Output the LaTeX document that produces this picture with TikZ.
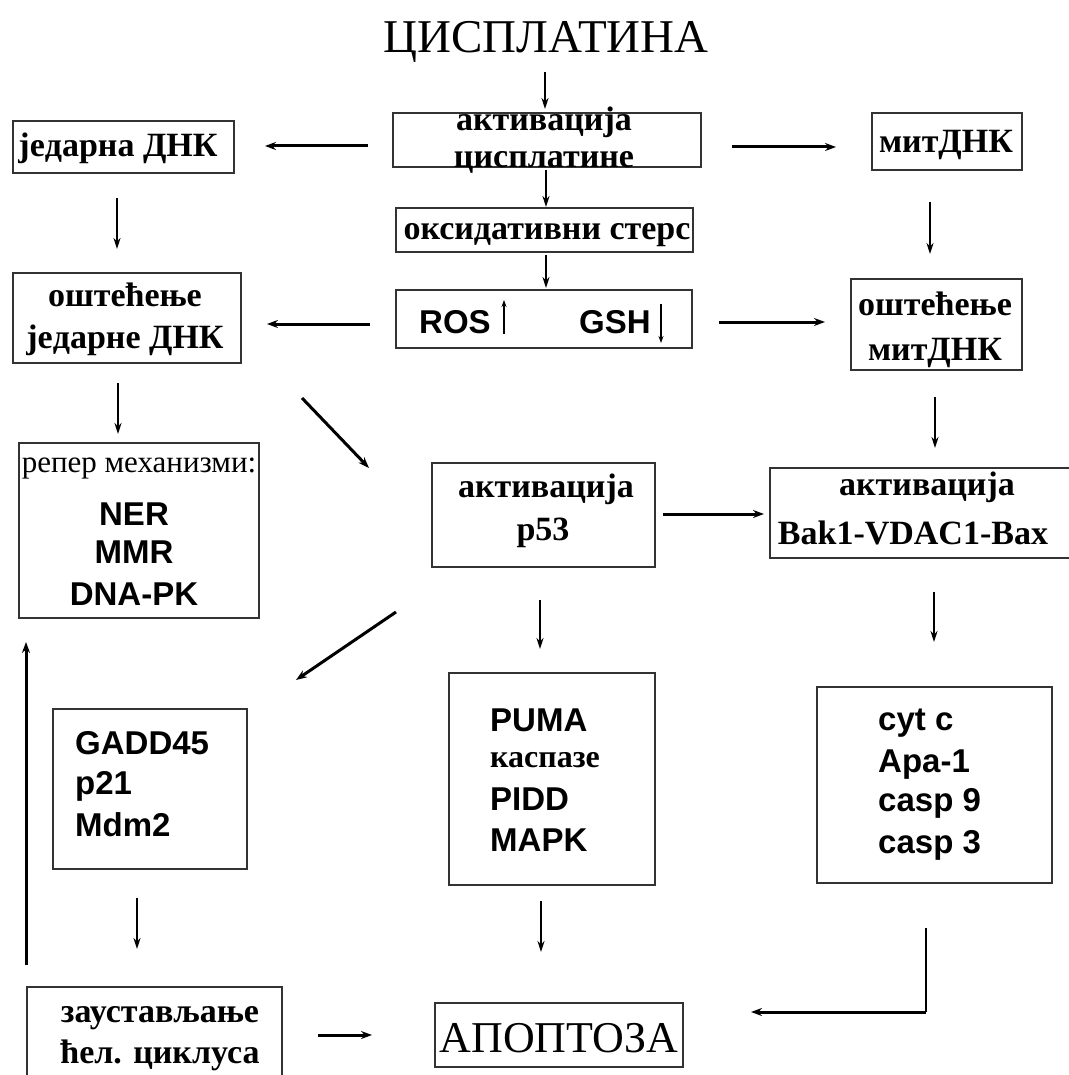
\documentclass[tikz,border=0pt]{standalone}
\usepackage{fontspec}
\setmainfont{Liberation Serif}
\newfontfamily\sansfam{Liberation Sans}
\usetikzlibrary{arrows.meta,fit}
\begin{document}
\begin{tikzpicture}[x=1pt,y=-1pt,
  box/.style={draw=black!80, line width=1.6pt, inner sep=0pt, fill=none},
  ser/.style={inner sep=0pt, anchor=base, font=\fontsize{34}{38}\selectfont\bfseries},
  serreg/.style={inner sep=0pt, anchor=base, font=\fontsize{31}{36}\selectfont},
  sansc/.style={inner sep=0pt, anchor=base, font=\sansfam\fontsize{33}{38}\selectfont\bfseries},
  sansl/.style={inner sep=0pt, anchor=base west, font=\sansfam\fontsize{33}{38}\selectfont\bfseries},
  arr/.style={-{Stealth[length=11pt,width=7pt]}, line width=2pt},
  arrt/.style={-{Stealth[length=11pt,width=8pt]}, line width=3pt},
  every node/.style={text=black}]
\useasboundingbox (0,0) rectangle (1068,1075);
\fill[white] (0,0) rectangle (1068,1075);

% ---- boxes ----
\node[box, fit={(393,113) (701,167)}] (akt) {};
\node[box, fit={(13,121) (234,173)}] (jed) {};
\node[box, fit={(872,113) (1022,170)}] (mit) {};
\node[box, fit={(396,208) (693,252)}] (oks) {};
\node[box, fit={(396,290) (692,348)}] (ros) {};
\node[box, fit={(13,273) (241,363)}] (ostj) {};
\node[box, fit={(851,279) (1022,370)}] (ostm) {};
\node[box, fit={(19,443) (259,618)}] (rep) {};
\node[box, fit={(432,463) (655,567)}] (p53) {};
\node[box, fit={(770,468) (1072,558)}] (bak) {};
\node[box, fit={(53,709) (247,869)}] (gadd) {};
\node[box, fit={(449,673) (655,885)}] (puma) {};
\node[box, fit={(817,687) (1052,883)}] (cyt) {};
\node[box, fit={(27,987) (282,1085)}] (zau) {};
\node[box, fit={(435,1003) (683,1067)}] (apo) {};

% ---- texts ----
\node[inner sep=0pt, anchor=base, font=\fontsize{47}{50}\selectfont] (title) at (546,53) {ЦИСПЛАТИНА};
\node[ser] (akt1) at (544,131) {активација};
\node[ser] (akt2) at (544,168) {цисплатине};
\node[ser] (jedt) at (118,157) {јeдарна ДНК};
\node[ser] (mitt) at (946,153) {митДНК};
\node[ser] (oksl) at (547,240) {оксидативни стерс};
\node[sansc, anchor=base west] (rost) at (419,333) {ROS};
\node[sansc, anchor=base west] (gsht) at (579,333) {GSH};
\node[ser] (ostj1) at (125,306) {оштећење};
\node[ser] (ostj2) at (125,348) {јeдарне ДНК};
\node[ser] (ostm1) at (935,315) {оштећење};
\node[ser] (ostm2) at (935,360) {митДНК};
\node[serreg] (rep0) at (139,472) {репер механизми:};
\node[sansc] (ner) at (134,525) {NER};
\node[sansc] (mmr) at (134,563) {MMR};
\node[sansc] (dnapk) at (134,605) {DNA-PK};
\node[ser] (p531) at (546,497) {активација};
\node[ser] (p532) at (543,540) {p53};
\node[ser] (bak1) at (927,495) {активација};
\node[ser] (bak2) at (913,544) {Bak1-VDAC1-Bax};
\node[sansl] (g1) at (75,754) {GADD45};
\node[sansl] (g2) at (75,794) {p21};
\node[sansl] (g3) at (75,836) {Mdm2};
\node[sansl] (pu1) at (490,731) {PUMA};
\node[ser, anchor=base west, font=\fontsize{32}{36}\selectfont\bfseries] (pu2) at (490,767) {каспазе};
\node[sansl] (pu3) at (490,810) {PIDD};
\node[sansl] (pu4) at (490,851) {MAPK};
\node[sansl] (c1) at (878,730) {cyt c};
\node[sansl] (c2) at (878,772) {Apa-1};
\node[sansl] (c3) at (878,811) {casp 9};
\node[sansl] (c4) at (878,853) {casp 3};
\node[ser] (z1) at (160,1022) {заустављање};
\node[ser] (z2) at (160,1063) {ћел. циклуса};
\node[inner sep=0pt, anchor=base, font=\fontsize{44}{46}\selectfont] (apot) at (559,1052) {АПОПТОЗА};

% ---- small arrows inside ROS/GSH text ----
\coordinate (rosa0) at (504,334);
\coordinate (rosa1) at (504,300);
\coordinate (gsha0) at (661,304);
\coordinate (gsha1) at (661,343);
\draw[-{Stealth[length=7pt,width=5pt]}, line width=1.8pt] (rosa0) -- (rosa1);
\draw[-{Stealth[length=7pt,width=5pt]}, line width=1.8pt] (gsha0) -- (gsha1);

% ---- connector end points ----
\coordinate (a1s) at (545,72);   \coordinate (a1e) at (545,109);
\coordinate (a2s) at (368,146);  \coordinate (a2e) at (265,146);
\coordinate (a3s) at (732,147);  \coordinate (a3e) at (836,147);
\coordinate (a4s) at (546,170);  \coordinate (a4e) at (546,207);
\coordinate (a5s) at (546,255);  \coordinate (a5e) at (546,288);
\coordinate (a6s) at (370,324);  \coordinate (a6e) at (267,324);
\coordinate (a7s) at (719,322);  \coordinate (a7e) at (825,322);
\coordinate (a8s) at (117,198);  \coordinate (a8e) at (117,249);
\coordinate (a9s) at (930,202);  \coordinate (a9e) at (930,254);
\coordinate (a10s) at (118,383); \coordinate (a10e) at (118,434);
\coordinate (a11s) at (302,398); \coordinate (a11e) at (369,468);
\coordinate (a12s) at (935,397); \coordinate (a12e) at (935,448);
\coordinate (a13s) at (663,514); \coordinate (a13e) at (764,514);
\coordinate (a14s) at (396,612); \coordinate (a14e) at (296,680);
\coordinate (a15s) at (540,600); \coordinate (a15e) at (540,649);
\coordinate (a16s) at (934,592); \coordinate (a16e) at (934,642);
\coordinate (a17s) at (26,965);  \coordinate (a17e) at (26,642);
\coordinate (a18s) at (137,898); \coordinate (a18e) at (137,949);
\coordinate (a19s) at (541,901); \coordinate (a19e) at (541,952);
\coordinate (a20s) at (926,928); \coordinate (a20m) at (926,1012); \coordinate (a20e) at (751,1012);
\coordinate (a21s) at (318,1035); \coordinate (a21e) at (372,1035);

\draw[arr] (a1s) -- (a1e);
\draw[arrt] (a2s) -- (a2e);
\draw[arrt] (a3s) -- (a3e);
\draw[arr] (a4s) -- (a4e);
\draw[arr] (a5s) -- (a5e);
\draw[arrt] (a6s) -- (a6e);
\draw[arrt] (a7s) -- (a7e);
\draw[arr] (a8s) -- (a8e);
\draw[arr] (a9s) -- (a9e);
\draw[arr] (a10s) -- (a10e);
\draw[arrt] (a11s) -- (a11e);
\draw[arr] (a12s) -- (a12e);
\draw[arrt] (a13s) -- (a13e);
\draw[arrt] (a14s) -- (a14e);
\draw[arr] (a15s) -- (a15e);
\draw[arr] (a16s) -- (a16e);
\draw[arrt] (a17s) -- (a17e);
\draw[arr] (a18s) -- (a18e);
\draw[arr] (a19s) -- (a19e);
\draw[line width=2pt] (a20s) -- (a20m);
\draw[arrt] (a20m) -- (a20e);
\draw[arrt] (a21s) -- (a21e);
\end{tikzpicture}
\end{document}
